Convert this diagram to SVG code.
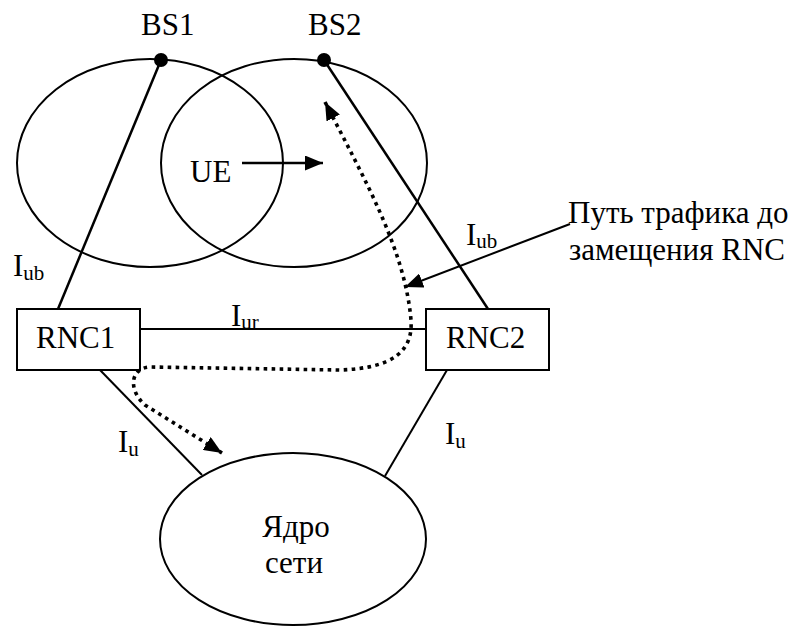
<svg xmlns="http://www.w3.org/2000/svg" width="799" height="628" viewBox="0 0 799 628">
  <style>
    text { font-family: 'Liberation Serif', 'DejaVu Serif', 'Noto Serif', serif; font-size: 31px; fill: #000; }
    .sub { font-size: 21px; }
    .ln { stroke: #000; fill: none; stroke-width: 2; }
    .thick { stroke-width: 2.5; }
    .dot { stroke: #000; fill: none; stroke-width: 3.6; stroke-dasharray: 3.6 4.4; }
  </style>
  <defs>
    <marker id="head" viewBox="0 0 18 15" refX="18" refY="7.5" markerWidth="18" markerHeight="15" markerUnits="userSpaceOnUse" orient="auto-start-reverse">
      <path d="M0,0 L18,7.5 L0,15 Z" fill="#000"/>
    </marker>
  </defs>

  <rect width="799" height="628" fill="#fff"/>

  <!-- radio cells -->
  <g id="cell1">
    <ellipse class="ln" cx="150" cy="163" rx="133" ry="104"/>
  </g>
  <g id="cell2">
    <ellipse class="ln" cx="294" cy="163" rx="133" ry="104"/>
  </g>

  <!-- connectors -->
  <g id="connectors">
    <line class="ln thick" x1="161" y1="60" x2="58" y2="309"/>
    <line class="ln thick" x1="324" y1="60" x2="488" y2="309"/>
    <line class="ln" x1="140" y1="329" x2="426" y2="329"/>
    <line class="ln" x1="100" y1="370" x2="202" y2="475"/>
    <line class="ln" x1="447" y1="370" x2="385" y2="476"/>
    <line class="ln thick" x1="242" y1="163" x2="323" y2="163" marker-end="url(#head)"/>
    <line class="ln" stroke-width="3" x1="570" y1="224" x2="405" y2="287" marker-end="url(#head)"/>
    <path class="dot" d="M325,102 C365,180 405,250 411,320 C413,350 395,368 340,370 L150,367 C130,368 128,390 145,405 L222,453" marker-start="url(#head)" marker-end="url(#head)"/>
  </g>

  <!-- base stations -->
  <g id="bs1">
    <circle cx="161" cy="60" r="7" fill="#000"/>
    <text x="141" y="35">BS1</text>
  </g>
  <g id="bs2">
    <circle cx="324" cy="60" r="7" fill="#000"/>
    <text x="308" y="35">BS2</text>
  </g>

  <g id="ue">
    <text x="190" y="182">UE</text>
  </g>

  <!-- controllers -->
  <g id="rnc1">
    <rect class="ln" x="17" y="309" width="123" height="61" fill="#fff"/>
    <text x="36" y="348">RNC1</text>
  </g>
  <g id="rnc2">
    <rect class="ln" x="426" y="309" width="123" height="61" fill="#fff"/>
    <text x="446" y="348">RNC2</text>
  </g>

  <!-- core network -->
  <g id="core">
    <ellipse class="ln" cx="293" cy="539" rx="133" ry="86"/>
    <text x="296" y="537" text-anchor="middle">Ядро</text>
    <text x="294" y="573" text-anchor="middle">сети</text>
  </g>

  <!-- interface labels -->
  <g id="labels">
    <text x="13" y="276">I<tspan class="sub" dy="4">ub</tspan></text>
    <text x="466" y="245">I<tspan class="sub" dy="3">ub</tspan></text>
    <text x="231" y="326">I<tspan class="sub" dy="3">ur</tspan></text>
    <text x="118" y="452">I<tspan class="sub" dy="4">u</tspan></text>
    <text x="445" y="444">I<tspan class="sub" dy="4">u</tspan></text>
  </g>

  <g id="note">
    <text x="568" y="223">Путь трафика до</text>
    <text x="569" y="260">замещения RNC</text>
  </g>
</svg>
